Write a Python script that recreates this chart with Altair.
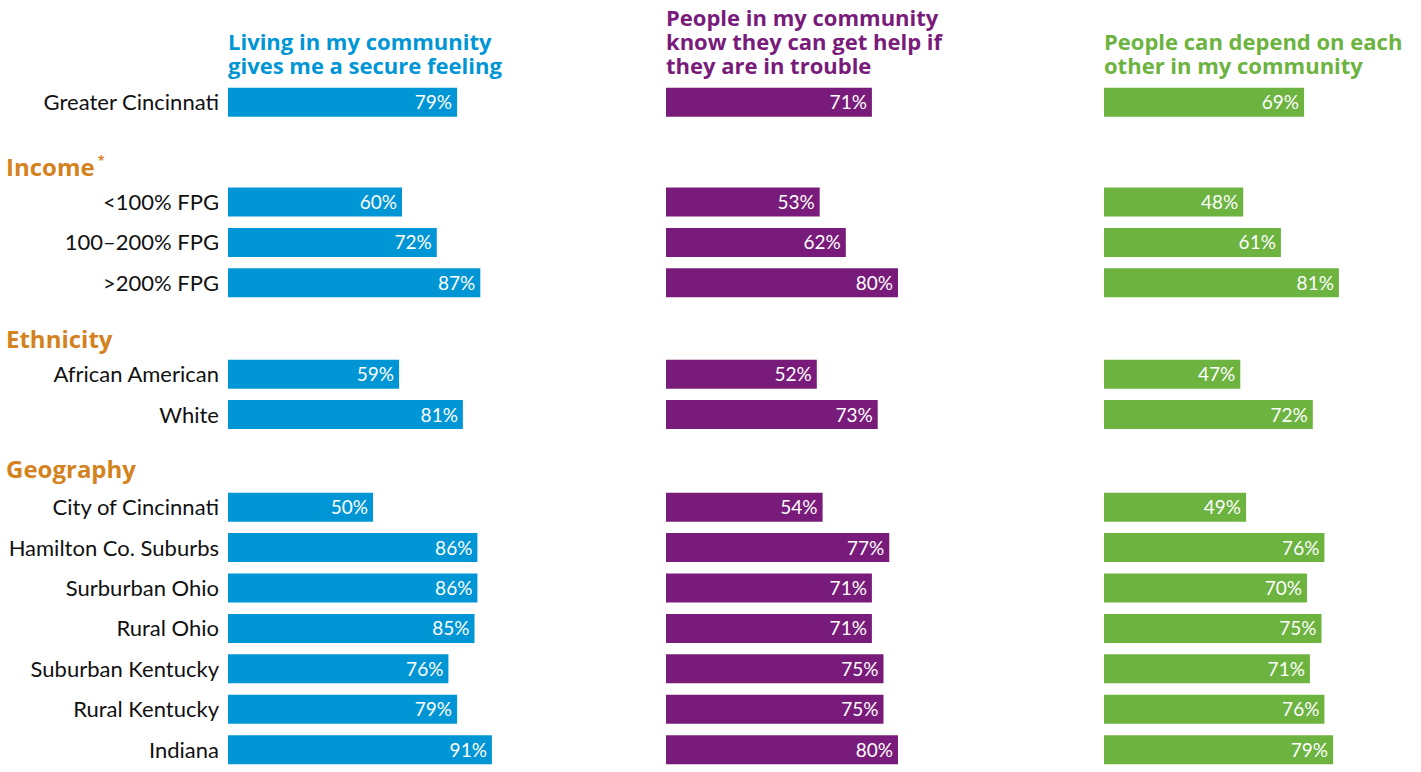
import altair as alt
import pandas as pd

categories = [
    "Greater Cincinnati",
    "<100% FPG", "100–200% FPG", ">200% FPG",
    "African American", "White",
    "City of Cincinnati", "Hamilton Co. Suburbs", "Surburban Ohio", "Rural Ohio",
    "Suburban Kentucky", "Rural Kentucky", "Indiana",
]
groups = [0, 1, 1, 1, 2, 2, 3, 3, 3, 3, 3, 3, 3]
group_headers = {1: "Income", 2: "Ethnicity", 3: "Geography"}

secure = [79, 60, 72, 87, 59, 81, 50, 86, 86, 85, 76, 79, 91]
get_help = [71, 53, 62, 80, 52, 73, 54, 77, 71, 71, 75, 75, 80]
depend = [69, 48, 61, 81, 47, 72, 49, 76, 70, 75, 71, 76, 79]

titles = [
    [" ", "Living in my community", "gives me a secure feeling"],
    ["People in my community", "know they can get help if", "they are in trouble"],
    [" ", "People can depend on each", "other in my community"],
]
colors = ["#0096d6", "#781b7a", "#6cb33f"]
header_color = "#d4821e"
FONT = "Lato"
BOLD_FONT = "Open Sans"

# layout of rows (row units): extra gap before each new section, header lift
gap_before = {1: 1.47, 2: 1.26, 3: 1.29}
header_lift = {1: 0.82, 2: 0.82, 3: 0.89}
pos = []
offset = 0.0
prev = 0
for i, g in enumerate(groups):
    if g != prev:
        offset += gap_before[g]
        prev = g
    pos.append(i + offset)

header_rows = []
for g, name in group_headers.items():
    first = groups.index(g)
    header_rows.append({"header": name, "pos": pos[first] - header_lift[g],
                        "star": "*" if name == "Income" else ""})
hdf = pd.DataFrame(header_rows)

yscale = alt.Scale(domain=[-0.5, 16.4], reverse=True, nice=False, zero=False, padding=0)
xscale = alt.Scale(domain=[0, 100], nice=False)


def panel(values, color, title, with_labels):
    df = pd.DataFrame({
        "category": categories,
        "value": values,
        "pos": pos,
        "label": [f"{v}%" for v in values],
    })
    base = alt.Chart(df).encode(
        y=alt.Y("pos:Q", scale=yscale, axis=None),
    )
    bars = base.mark_bar(size=29, color=color, orient="horizontal").encode(
        x=alt.X("value:Q", scale=xscale, axis=None), x2=alt.datum(0)
    )
    vals = base.mark_text(align="right", baseline="middle", dx=-5, dy=1, color="white",
                          fontSize=19, font=FONT).encode(
        x=alt.X("value:Q", scale=xscale, axis=None), text="label:N"
    )
    layers = [bars, vals]
    if with_labels:
        labs = base.mark_text(align="right", baseline="middle", dy=1, color="#111111",
                              fontSize=22, font=FONT).encode(
            x=alt.value(-9), text="category:N"
        )
        heads = alt.Chart(hdf).mark_text(align="left", baseline="middle", color=header_color,
                                          fontSize=24, font=BOLD_FONT, fontWeight="bold").encode(
            x=alt.value(-222), y=alt.Y("pos:Q", scale=yscale, axis=None), text="header:N"
        )
        star = alt.Chart(hdf).mark_text(align="left", baseline="middle", color=header_color,
                                         fontSize=12, font=BOLD_FONT, fontWeight="bold", dy=-8).encode(
            x=alt.value(-130), y=alt.Y("pos:Q", scale=yscale, axis=None), text="star:N"
        )
        layers += [labs, heads, star]
    return alt.layer(*layers).properties(
        width=290, height=683,
        title=alt.TitleParams(text=title, color=color, anchor="start", frame="group",
                              fontSize=22, font=BOLD_FONT, fontWeight="bold",
                              lineHeight=24, offset=3),
    )


chart = alt.hconcat(
    panel(secure, colors[0], titles[0], True),
    panel(get_help, colors[1], titles[1], False),
    panel(depend, colors[2], titles[2], False),
    spacing=148,
).properties(
    padding={"left": 6, "top": 8, "right": 5, "bottom": 2},
    background="white",
).configure_view(stroke=None, strokeWidth=0)

chart.save("out.html", embed_options={"renderer": "svg", "actions": False})
